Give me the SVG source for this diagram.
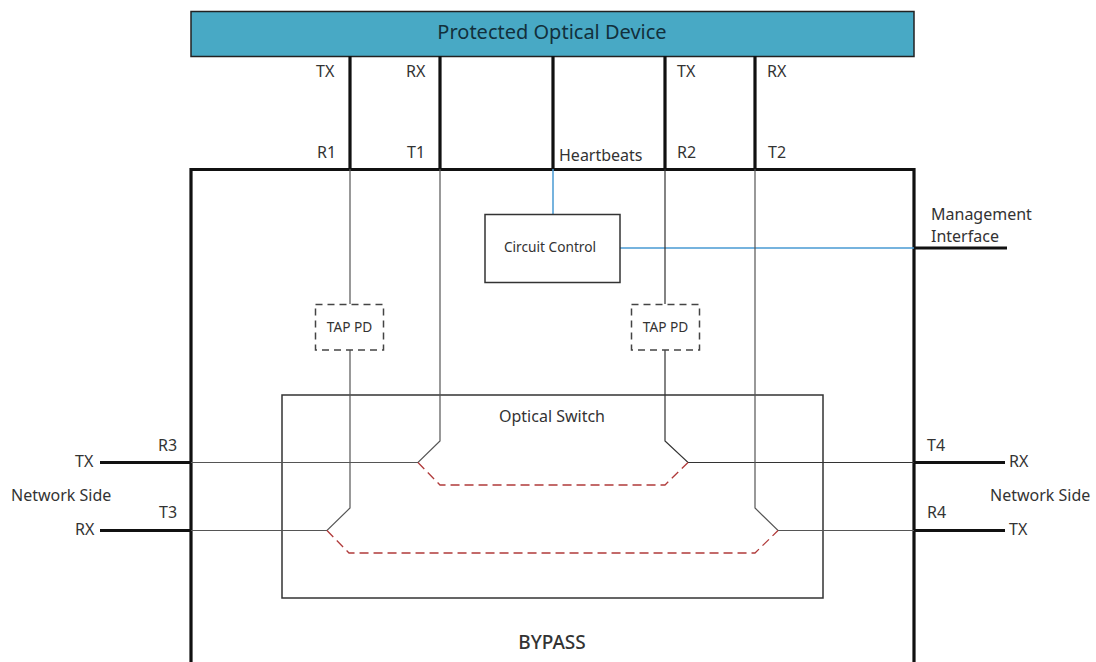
<svg xmlns="http://www.w3.org/2000/svg" width="1096" height="662" viewBox="0 0 1096 662">
<style>
text{font-family:"Noto Sans","Open Sans","Liberation Sans",sans-serif;font-size:16px;fill:#333}
.thick{fill:none;stroke:#111;stroke-width:3.200;stroke-linecap:butt}
.thin{fill:none;stroke:#333;stroke-width:1.2}
.grey{fill:none;stroke:#555;stroke-width:1.2}
.blue{fill:none;stroke:#4a9ad4;stroke-width:1.5}
.red{fill:none;stroke:#b03a3a;stroke-width:1.3;stroke-dasharray:9 5}
.box{fill:#fff;stroke:#333;stroke-width:1.5}
.dash{fill:#fff;stroke:#444;stroke-width:1.5;stroke-dasharray:7 5}
.small{font-size:13.700px}
</style>
<rect width="1096" height="662" fill="#fff"/>
<g id="bypass">
<path class="thick" d="M191 662V169.500H914V662"/>
<text x="552" y="649" text-anchor="middle" font-weight="500" style="font-size:19px">BYPASS</text>
</g>
<g id="device">
<rect x="191" y="11.500" width="723" height="45" fill="#48a9c5" stroke="#222" stroke-width="1.500"/>
<text x="552" y="39" text-anchor="middle" style="font-size:20px;fill:#12303c">Protected Optical Device</text>
</g>
<g id="switch">
<rect x="282" y="395" width="541" height="203" fill="none" stroke="#333" stroke-width="1.500"/>
<text x="552" y="422" text-anchor="middle">Optical Switch</text>
</g>
<g id="connectors">
<path class="thick" d="M350 56V169M440 56V169M553 56V169M665 56V169M755 56V169"/>
<path class="thick" d="M100 462.500H191M100 530.500H191M914 462.500H1005M914 530.500H1005M914 248H1007"/>
<path class="blue" d="M553 169V214M620 248H914"/>
<path class="grey" d="M350 169V304M350 350V508L327 530.500H191"/>
<path class="grey" d="M440 169V441L418 462.500H191"/>
<path class="thin" d="M665 169V304M665 350V441L688 462.500H914"/>
<path class="grey" d="M755 169V508L778 530.500H914"/>
<path class="red" d="M418 462.500L440 485H665L688 462.500"/>
<path class="red" d="M327 530.500L349 553H755L778 530.500"/>
</g>
<g id="circuit-control">
<rect class="box" x="485" y="214.500" width="135" height="68"/>
<text x="550" y="252" text-anchor="middle" class="small">Circuit Control</text>
</g>
<g id="tap-pd-1">
<rect class="dash" x="315.500" y="304.500" width="68" height="45.500"/>
<text x="349.500" y="332" text-anchor="middle" class="small">TAP PD</text>
</g>
<g id="tap-pd-2">
<rect class="dash" x="631.500" y="304.500" width="68" height="45.500"/>
<text x="665.500" y="332" text-anchor="middle" class="small">TAP PD</text>
</g>
<g id="labels">
<text x="316" y="77">TX</text>
<text x="406" y="77">RX</text>
<text x="677" y="77">TX</text>
<text x="767" y="77">RX</text>
<text x="317" y="158">R1</text>
<text x="407" y="158">T1</text>
<text x="559" y="161">Heartbeats</text>
<text x="677" y="158">R2</text>
<text x="768" y="158">T2</text>
<text x="931" y="220">Management</text>
<text x="931" y="242">Interface</text>
<text x="158" y="451">R3</text>
<text x="159" y="518">T3</text>
<text x="75" y="467">TX</text>
<text x="75" y="535">RX</text>
<text x="11" y="501">Network Side</text>
<text x="927" y="451">T4</text>
<text x="927" y="518">R4</text>
<text x="1009" y="467">RX</text>
<text x="1009" y="535">TX</text>
<text x="990" y="501">Network Side</text>
</g>
</svg>
